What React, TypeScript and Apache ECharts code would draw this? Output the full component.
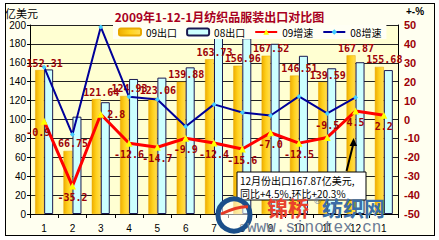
import React, { useEffect, useRef } from 'react';
import * as echarts from 'echarts';

const categories = ['1', '2', '3', '4', '5', '6', '7', '8', '9', '10', '11', '12', '1'];
const export09 = [152.31, 66.75, 121.64, 124.93, 123.06, 139.88, 163.73, 156.96, 167.52, 146.51, 139.59, 167.87, 155.68];
const export08 = [153.0, 103.0, 118.3, 142.9, 144.3, 155.2, 186.9, 186.0, 180.1, 167.4, 154.2, 160.6, 152.3];
const growth09 = [-0.9, -35.2, 2.8, -12.6, -14.7, -9.9, -12.4, -15.6, -7.0, -12.5, -9.5, 4.5, 2.2];
const growth08 = [27.7, -8.0, 49.0, 12.0, 10.6, -3.7, 8.0, 3.7, 2.1, 12.2, 3.2, 11.7, null];
const growth09LabelPos = ['bottom', 'bottom', 'right', 'bottom', 'bottom', 'bottom', 'bottom', 'bottom', 'bottom', 'bottom', 'top', 'bottom', 'bottom'];
const noteMonth = 11;
const noteMoM = 20.3;

const DARK_RED = '#9C0006';
const LABEL_FONT = 'DejaVu Sans Mono';
const CJK = 'Noto Sans CJK SC';

export default function App() {
  const ref = useRef<HTMLDivElement>(null);

  useEffect(() => {
    document.body.style.margin = '0';
    const chart = echarts.init(ref.current!, null, { renderer: 'svg' });

    const yellow = new echarts.graphic.LinearGradient(0, 0, 1, 0, [
      { offset: 0, color: '#EFAE00' },
      { offset: 0.5, color: '#FFD21E' },
      { offset: 1, color: '#FFDD55' },
    ]);

    const option: any = {
      animation: false,
      backgroundColor: 'transparent',
      title: {
        text: '2009年1-12-1月纺织品服装出口对比图',
        left: 'center',
        top: 5,
        textStyle: { fontSize: 12, fontWeight: 'bold', color: '#A8001E', fontFamily: CJK },
      },
      legend: {
        left: 113,
        top: 25,
        itemWidth: 22,
        itemHeight: 7,
        itemGap: 9,
        padding: [2, 5, 2, 5],
        backgroundColor: '#FFFFF4',
        data: ['09出口', '08出口', '09增速', '08增速'],
        textStyle: { fontSize: 10, color: '#000', fontFamily: CJK },
      },
      grid: {
        left: 30,
        right: 41,
        top: 25,
        bottom: 26,
        show: true,
        backgroundColor: '#FFFFD2',
        borderWidth: 0,
      },
      xAxis: {
        type: 'category',
        data: categories,
        axisLine: { lineStyle: { color: '#000', width: 1 } },
        axisTick: { show: true, alignWithLabel: false, length: 4, lineStyle: { color: '#000' } },
        axisLabel: { fontSize: 10, color: '#000', margin: 9, fontFamily: 'Liberation Sans' },
        splitLine: { show: false },
      },
      yAxis: [
        {
          type: 'value',
          min: 0,
          max: 200,
          interval: 20,
          axisLine: { show: true, lineStyle: { color: '#000' } },
          axisTick: { show: true, length: 3, lineStyle: { color: '#000' } },
          axisLabel: { fontSize: 10, color: '#000', margin: 4, fontFamily: 'Liberation Sans' },
          splitLine: { show: true, lineStyle: { color: '#222', width: 1 } },
        },
        {
          type: 'value',
          min: -50,
          max: 50,
          interval: 10,
          position: 'right',
          axisLine: { show: true, lineStyle: { color: '#000' } },
          axisTick: { show: false },
          axisLabel: { fontSize: 11, fontWeight: 'bold', color: DARK_RED, margin: 6, fontFamily: 'Liberation Sans' },
          splitLine: { show: false },
        },
      ],
      series: [
        {
          name: '09出口',
          type: 'bar',
          data: export09,
          barWidth: 9,
          barGap: '0%',
          itemStyle: { color: yellow, borderColor: '#E8A800', borderWidth: 0.5 },
          label: {
            show: true,
            position: 'top',
            distance: 2,
            offset: [5, 0],
            color: DARK_RED,
            fontSize: 10,
            fontWeight: 'bold',
            fontFamily: LABEL_FONT,
            formatter: (p: any) => Number(p.value).toFixed(2),
          },
          z: 2,
        },
        {
          name: '08出口',
          type: 'bar',
          data: export08,
          barWidth: 9,
          itemStyle: { color: '#CCFFFF', borderColor: '#1A1A50', borderWidth: 1 },
          z: 2,
        },
        {
          name: '08增速',
          type: 'line',
          yAxisIndex: 1,
          data: growth08,
          symbol: 'diamond',
          symbolSize: 5,
          lineStyle: { color: '#000099', width: 2 },
          itemStyle: { color: '#44CCFF' },
          z: 3,
        },
        {
          name: '09增速',
          type: 'line',
          yAxisIndex: 1,
          data: growth09.map((v, i) => ({
            value: v,
            label: { position: growth09LabelPos[i], offset: i === 0 ? [-6, 0] : [0, 0] },
          })),
          symbol: 'triangle',
          symbolSize: 7,
          lineStyle: { color: '#FF0000', width: 3 },
          itemStyle: { color: '#FFFF00' },
          label: {
            show: true,
            distance: 3,
            color: DARK_RED,
            fontSize: 10,
            fontWeight: 'bold',
            fontFamily: LABEL_FONT,
            formatter: (p: any) => Number(p.value).toFixed(1),
          },
          z: 4,
        },
      ],
    };

    chart.setOption(option);

    const pt = chart.convertToPixel({ xAxisIndex: 0, yAxisIndex: 1 } as any, [noteMonth, growth09[noteMonth]]) as number[];
    const tipX = pt[0] - 2;
    const tipY = pt[1] + 27;
    const tailX = pt[0] - 9;
    const tailY = pt[1] + 60;

    const noteText = `${categories[noteMonth]}月份出口${export09[noteMonth].toFixed(2)}亿美元,\n同比+${growth09[noteMonth]}%,环比+${noteMoM}%`;

    chart.setOption({
      graphic: [
        {
          type: 'text',
          left: 5,
          top: 7,
          style: { text: '亿美元', fontSize: 11, fill: '#000', fontFamily: CJK },
          z: 10,
        },
        {
          type: 'text',
          left: 406,
          top: 6,
          style: { text: '+-%', fontSize: 10, fontWeight: 'bold', fill: '#000', fontFamily: 'Liberation Sans' },
          z: 10,
        },
        {
          type: 'line',
          shape: { x1: tailX, y1: tailY, x2: tipX, y2: tipY + 5 },
          style: { stroke: '#000', lineWidth: 2 },
          z: 20,
        },
        {
          type: 'polygon',
          shape: { points: [[tipX, tipY], [tipX - 4, tipY + 8], [tipX + 3.5, tipY + 8]] },
          style: { fill: '#000' },
          z: 20,
        },
        {
          type: 'rect',
          shape: { x: 237, y: 172, width: 129, height: 28 },
          style: { fill: '#FFFFFF', stroke: '#000', lineWidth: 1 },
          z: 20,
        },
        {
          type: 'text',
          x: 240,
          y: 174,
          style: { text: noteText, fontSize: 10, lineHeight: 13, fill: '#000', fontFamily: CJK },
          z: 21,
        },
        {
          type: 'circle',
          shape: { cx: 234, cy: 215, r: 16 },
          style: { fill: 'rgba(255,255,255,0.55)', stroke: '#1B4F8A', lineWidth: 5 },
          z: 30,
        },
        {
          type: 'bezierCurve',
          shape: { x1: 221, y1: 214, cpx1: 230, cpy1: 210, x2: 248, y2: 207, cpx2: 240, cpy2: 206 },
          style: { stroke: '#E53A25', lineWidth: 3, fill: 'none' },
          z: 31,
        },
        {
          type: 'text',
          x: 267,
          y: 196,
          style: { text: '锦桥', fontSize: 21, fontWeight: 'bold', fill: '#E8412C', fontFamily: CJK },
          z: 30,
        },
        {
          type: 'text',
          x: 313,
          y: 196,
          style: { text: '®', fontSize: 9, fill: '#6A7FA0', fontFamily: 'DejaVu Sans' },
          z: 30,
        },
        {
          type: 'text',
          x: 322,
          y: 196,
          style: { text: '纺织网', fontSize: 21, fontWeight: 'bold', fill: '#3A6EA8', fontFamily: CJK },
          z: 30,
        },
        {
          type: 'text',
          x: 247,
          y: 220,
          style: { text: 'www.sinotex.cn', fontSize: 16, fill: '#6B7B95', fontFamily: 'Liberation Mono' },
          z: 30,
        },
      ],
    });

    return () => chart.dispose();
  }, []);

  return (
    <div style={{ position: 'relative', width: 439, height: 240, background: '#FFFFFF' }}>
      <div
        style={{
          position: 'absolute',
          left: 5,
          top: 3,
          width: 430,
          height: 233,
          boxSizing: 'border-box',
          border: '1px solid #000',
          background: '#FFFFF0',
        }}
      />
      <div ref={ref} style={{ position: 'absolute', left: 0, top: 0, width: 439, height: 240 }} />
    </div>
  );
}
